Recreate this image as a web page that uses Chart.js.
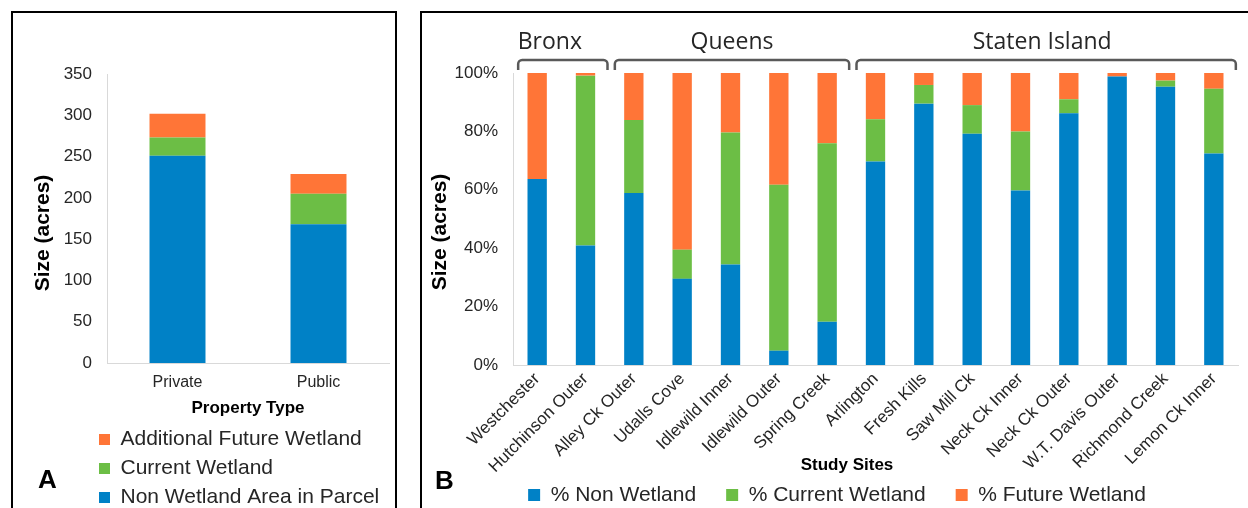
<!DOCTYPE html>
<html>
<head>
<meta charset="utf-8">
<script src="https://cdn.jsdelivr.net/npm/chart.js@4.4.1/dist/chart.umd.min.js"></script>
<style>
  html, body { margin: 0; padding: 0; background: #fff; overflow: hidden; width: 1248px; height: 508px; }
  .panel { position: absolute; border: 2px solid #000; background: #fff; }
  #panelA { left: 11px; top: 11px; width: 382px; height: 530px; }
  #panelB { left: 420px; top: 11px; width: 840px; height: 530px; }
  canvas { display: block; }
  .tag { position: absolute; font: bold 26px "Liberation Sans", Arial, sans-serif; line-height: 26px; color: #000; }
</style>
</head>
<body>
<div class="panel" id="panelA"><canvas id="chartA" width="382" height="505" style="width:382px;height:505px"></canvas></div>
<div class="panel" id="panelB"><canvas id="chartB" width="826" height="530" style="width:826px;height:530px"></canvas></div>
<div class="tag" style="left:38px;top:466px">A</div>
<div class="tag" style="left:435px;top:467px">B</div>
<script>
// panel A: acres by property type
const propertyTypes = ['Private', 'Public'];
const nonWetlandArea = [251, 168];
const currentWetlandArea = [22, 37];
const futureWetlandArea = [29, 24];
const acreTicks = [0, 50, 100, 150, 200, 250, 300, 350];

// panel B: share of each study site
const studySites = ['Westchester', 'Hutchinson Outer', 'Alley Ck Outer', 'Udalls Cove', 'Idlewild Inner',
  'Idlewild Outer', 'Spring Creek', 'Arlington', 'Fresh Kills', 'Saw Mill Ck', 'Neck Ck Inner',
  'Neck Ck Outer', 'W.T. Davis Outer', 'Richmond Creek', 'Lemon Ck Inner'];
const pctNonWetland = [63.7, 40.9, 58.9, 29.5, 34.4, 4.9, 14.8, 69.7, 89.5, 79.2, 59.8, 86.2, 98.8, 95.3, 72.4];
const pctCurrentWetland = [0, 58.2, 25.0, 10.0, 45.2, 56.8, 61.1, 14.5, 6.4, 9.8, 20.2, 4.8, 0, 2.1, 22.2];
const pctFutureWetland = [36.3, 0.9, 16.1, 60.5, 20.4, 38.3, 24.1, 15.8, 4.1, 11.0, 20.0, 9.0, 1.2, 2.6, 5.4];
const regionNames = ['Bronx', 'Queens', 'Staten Island'];
const regionFirst = [0, 2, 7];
const regionLast = [1, 6, 14];

const BLUE = '#0081C6', GREEN = '#6CBE45', ORANGE = '#FF7537';
const FONT = '"Liberation Sans", Arial, sans-serif';
const regionLabelShift = [-13, 0, -4];

Chart.defaults.font.family = FONT;
Chart.defaults.color = '#262626';
Chart.defaults.animation = false;

// Excel puts the y title a bit below the middle of the plot, so draw it by hand
function drawYTitle(chart, x) {
  const ctx = chart.ctx;
  ctx.save();
  ctx.translate(x, chart.chartArea.top + 159);
  ctx.rotate(-Math.PI / 2);
  ctx.font = 'bold 21px ' + FONT;
  ctx.fillStyle = '#000';
  ctx.textAlign = 'center';
  ctx.textBaseline = 'middle';
  ctx.fillText('Size (acres)', 0, 0);
  ctx.restore();
}

new Chart(document.getElementById('chartA'), {
  type: 'bar',
  data: {
    labels: propertyTypes,
    datasets: [
      { label: 'Non Wetland Area in Parcel', data: nonWetlandArea, backgroundColor: BLUE },
      { label: 'Current Wetland', data: currentWetlandArea, backgroundColor: GREEN },
      { label: 'Additional Future Wetland', data: futureWetlandArea, backgroundColor: ORANGE }
    ]
  },
  options: {
    responsive: false,
    barPercentage: 0.397,
    categoryPercentage: 1,
    layout: { padding: { top: 61, right: 6, bottom: 0, left: 0 } },
    plugins: {
      tooltip: { enabled: false },
      legend: {
        position: 'bottom',
        align: 'start',
        reverse: true,
        labels: { font: { size: 21 }, boxWidth: 11, boxHeight: 11, padding: 8, color: '#262626' }
      }
    },
    scales: {
      x: {
        stacked: true,
        grid: { display: false, drawTicks: false },
        border: { color: '#D9D9D9' },
        ticks: { font: { size: 16 }, padding: 10, color: '#262626' },
        title: { display: true, text: 'Property Type', font: { size: 17, weight: 'bold' }, color: '#000', padding: { bottom: 2 } },
        afterFit: axis => { axis.height = 58; }
      },
      y: {
        stacked: true,
        min: 0,
        max: 350,
        afterBuildTicks: axis => { axis.ticks = acreTicks.map(v => ({ value: v })); },
        grid: { display: false, drawTicks: false },
        border: { color: '#D9D9D9' },
        ticks: { font: { size: 17 }, padding: 15, color: '#262626' },
        afterFit: axis => { axis.width = 94; }
      }
    }
  },
  plugins: [{
    id: 'panelA',
    afterLayout(chart) {
      chart.legend.left += 78;
      chart.legend.right += 78;
    },
    afterDraw(chart) {
      drawYTitle(chart, 30);
    }
  }]
});

new Chart(document.getElementById('chartB'), {
  type: 'bar',
  data: {
    labels: studySites,
    datasets: [
      { label: '% Non Wetland', data: pctNonWetland, backgroundColor: BLUE },
      { label: '% Current Wetland', data: pctCurrentWetland, backgroundColor: GREEN },
      { label: '% Future Wetland', data: pctFutureWetland, backgroundColor: ORANGE }
    ]
  },
  options: {
    responsive: false,
    barPercentage: 0.4,
    categoryPercentage: 1,
    layout: { padding: { top: 60, right: 10, bottom: 2, left: 0 } },
    plugins: {
      tooltip: { enabled: false },
      legend: {
        position: 'bottom',
        labels: { font: { size: 21 }, boxWidth: 12, boxHeight: 12, padding: 30, color: '#262626' }
      }
    },
    scales: {
      x: {
        stacked: true,
        grid: { display: false, drawTicks: false },
        border: { color: '#D9D9D9' },
        ticks: { font: { size: 17 }, padding: 4, minRotation: 45, maxRotation: 45, autoSkip: false, color: '#262626' },
        afterFit: axis => { axis.height = 115; }
      },
      y: {
        stacked: true,
        min: 0,
        max: 100,
        grid: { display: false, drawTicks: false },
        border: { color: '#D9D9D9' },
        ticks: { stepSize: 20, font: { size: 17 }, padding: 15, color: '#262626', callback: v => v + '%' },
        afterFit: axis => { axis.width = 91; }
      }
    }
  },
  plugins: [{
    id: 'regions',
    afterLayout(chart) {
      // legend sits up among the slanted labels, as in the original
      chart.legend.top -= 25.5;
      chart.legend.bottom -= 25.5;
      chart.legend.left += 7;
      chart.legend.right += 7;
    },
    afterDraw(chart) {
      const { ctx, chartArea } = chart;
      const x = chart.scales.x;
      drawYTitle(chart, 18);
      ctx.save();
      ctx.strokeStyle = '#595959';
      ctx.lineWidth = 2.5;
      ctx.font = '23px "Open Sans", sans-serif';
      ctx.fillStyle = '#262626';
      ctx.textAlign = 'center';
      ctx.textBaseline = 'middle';
      const yTop = chartArea.top - 13, yEnd = chartArea.top - 3, r = 4;
      regionNames.forEach((name, i) => {
        const x0 = x.getPixelForValue(regionFirst[i]) - 19;
        const x1 = x.getPixelForValue(regionLast[i]) + 22;
        ctx.beginPath();
        ctx.moveTo(x0, yEnd);
        ctx.arcTo(x0, yTop, x0 + r, yTop, r);
        ctx.arcTo(x1, yTop, x1, yTop + r, r);
        ctx.lineTo(x1, yEnd);
        ctx.stroke();
        ctx.fillText(name, (x0 + x1) / 2 + regionLabelShift[i], chartArea.top - 31);
      });
      // axis title sits between the slanted labels
      ctx.font = 'bold 17px ' + FONT;
      ctx.fillStyle = '#000';
      ctx.fillText('Study Sites', chartArea.left + 334, chartArea.bottom + 100);
      ctx.restore();
    }
  }]
});
</script>
</body>
</html>
